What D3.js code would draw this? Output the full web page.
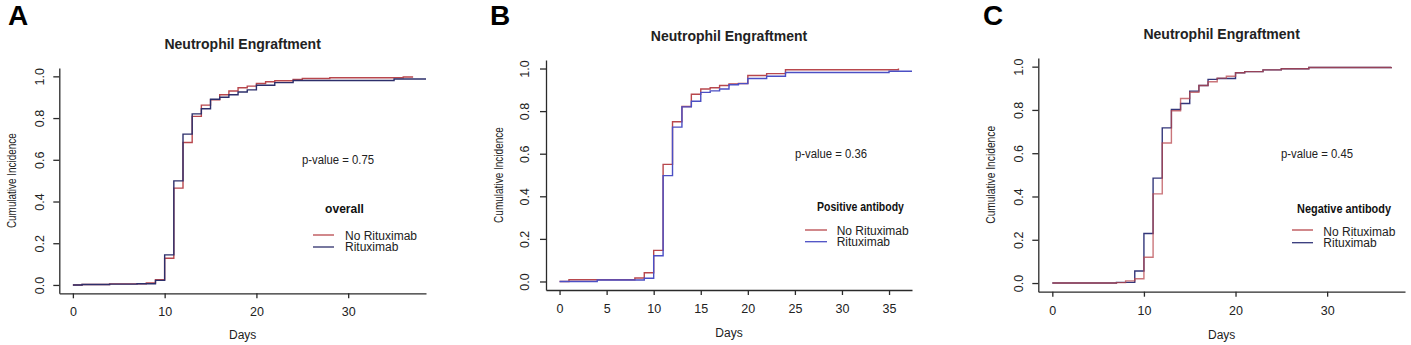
<!DOCTYPE html>
<html>
<head>
<meta charset="utf-8">
<script src="https://cdn.jsdelivr.net/npm/d3@7"></script>
<style>
  html, body { margin: 0; padding: 0; background: #fff; }
  svg { display: block; }
  text { font-family: "Liberation Sans", Arial, sans-serif; fill: #222; }
</style>
</head>
<body>
<svg id="chart" width="1411" height="345"></svg>
<script>
// ---------------- DATA ----------------
const seriesNames = ["No Rituximab", "Rituximab"];
const yTicks = [0, 0.2, 0.4, 0.6, 0.8, 1.0];
const xTicksA = [0, 10, 20, 30];
const xTicksB = [0, 5, 10, 15, 20, 25, 30, 35];
const xTicksC = [0, 10, 20, 30];

// Panel A: overall
const daysA_no = [0, 1, 4, 7, 8, 9, 10, 11, 12, 13, 14, 15, 16, 17, 18, 19, 20, 21, 22, 24, 25, 28, 36, 37];
const ciA_no   = [0, 0.002, 0.005, 0.006, 0.01, 0.025, 0.128, 0.464, 0.683, 0.808, 0.862, 0.888, 0.912, 0.93, 0.945, 0.953, 0.966, 0.974, 0.979, 0.985, 0.99, 0.993, 0.997, 1.0];
const daysA_rx = [0, 1, 4, 7, 9, 10, 11, 12, 13, 14, 15, 16, 17, 18, 19, 20, 22, 24, 35, 40];
const ciA_rx   = [0, 0.002, 0.004, 0.006, 0.022, 0.144, 0.499, 0.723, 0.82, 0.845, 0.89, 0.9, 0.912, 0.925, 0.935, 0.957, 0.97, 0.98, 0.987, 0.987];

// Panel B: positive antibody
const daysB_no = [0, 1, 4, 8, 9, 10, 11, 12, 13, 14, 15, 16, 17, 18, 19, 20, 22, 24, 36];
const ciB_no   = [0, 0.008, 0.008, 0.016, 0.041, 0.146, 0.55, 0.75, 0.822, 0.879, 0.904, 0.91, 0.92, 0.927, 0.93, 0.967, 0.976, 0.994, 1.0];
const daysB_rx = [0, 4, 9, 10, 11, 12, 13, 14, 15, 16, 17, 18, 19, 20, 22, 24, 35, 40];
const ciB_rx   = [0, 0.007, 0.015, 0.121, 0.497, 0.725, 0.82, 0.846, 0.888, 0.895, 0.904, 0.924, 0.929, 0.953, 0.964, 0.981, 0.987, 0.987];

// Panel C: negative antibody
const daysC_no = [0, 7, 8, 9, 10, 11, 12, 13, 14, 15, 16, 17, 18, 19, 20, 21, 23, 25, 28, 37];
const ciC_no   = [0, 0.002, 0.01, 0.02, 0.119, 0.412, 0.647, 0.796, 0.853, 0.882, 0.913, 0.93, 0.947, 0.956, 0.972, 0.977, 0.985, 0.99, 0.996, 0.998];
const daysC_rx = [0, 7, 9, 10, 11, 12, 13, 14, 15, 16, 17, 18, 20, 21, 23, 25, 28, 37];
const ciC_rx   = [0, 0.003, 0.056, 0.229, 0.485, 0.717, 0.802, 0.83, 0.887, 0.913, 0.941, 0.945, 0.972, 0.977, 0.985, 0.99, 0.996, 0.998];

const pValues = ["p-value = 0.75", "p-value = 0.36", "p-value = 0.45"];
const groupTitles = ["overall", "Positive antibody", "Negative antibody"];
const panelLetters = ["A", "B", "C"];
const chartTitle = "Neutrophil Engraftment";
const xLabel = "Days";
const yLabel = "Cumulative Incidence";

// ---------------- LAYOUT ----------------
const RED = "#b8474d";
const layouts = [
  { letterX: 8,   left: 59.3,  right: 426,  top: 68, bottom: 293.3, xDom: [-1.48, 38.48], xTicks: xTicksA,
    rx: [daysA_rx, ciA_rx], no: [daysA_no, ciA_no], blue: "#2d2f6b",
    titleY: 48.5, tickLabY: 22.7, daysY: 45.8, yTickOff: 15.3, yLabX: 16, yLabLen: 95,
    pv: [338, 164.3], lg: { titleX: 344.5, titleY: 213, tw: 39, x1: 313, x2: 334, y1: 235, y2: 247, tx: 345, b1: 239.5, b2: 251 }, redTop: false },
  { letterX: 490, left: 546,   right: 912,  top: 60, bottom: 290,   xDom: [-1.44, 37.44], xTicks: xTicksB,
    rx: [daysB_rx, ciB_rx], no: [daysB_no, ciB_no], blue: "#4b4fc4",
    titleY: 40.5, tickLabY: 22.5, daysY: 46.5, yTickOff: 16.7, yLabX: 502.7, yLabLen: 96,
    pv: [831, 158.3], lg: { titleX: 860.5, titleY: 210.5, tw: 87, x1: 805, x2: 827, y1: 230, y2: 241.7, tx: 836.7, b1: 234.5, b2: 246 }, redTop: false },
  { letterX: 983, left: 1038.3, right: 1405, top: 58, bottom: 291.7, xDom: [-1.53, 38.5], xTicks: xTicksC,
    rx: [daysC_rx, ciC_rx], no: [daysC_no, ciC_no], blue: "#33367a",
    titleY: 38.5, tickLabY: 23, daysY: 47.3, yTickOff: 15.6, yLabX: 995, yLabLen: 98,
    pv: [1317, 158], lg: { titleX: 1344, titleY: 213, tw: 94, x1: 1292, x2: 1313, y1: 230, y2: 242.7, tx: 1323.3, b1: 235.5, b2: 247.3 }, redTop: true }
];

const svg = d3.select("#chart");
const AX = "#2a2a2a";

// place a text centred at (cx, by) and squeeze it horizontally to width w
function squeezed(g, str, cx, by, w, size, bold, rotate) {
  const t = g.append("text").attr("text-anchor", "middle")
    .style("font-size", size + "px").style("font-weight", bold ? "bold" : "normal").text(str);
  const natural = t.node().getComputedTextLength();
  const k = Math.min(1, w / natural);
  t.attr("transform", `translate(${cx},${by})` + (rotate ? " rotate(-90)" : "") + ` scale(${k},1)`);
  return t;
}

layouts.forEach((L, i) => {
  const g = svg.append("g");
  const x = d3.scaleLinear().domain(L.xDom).range([L.left, L.right]);
  const y = d3.scaleLinear().domain([-0.04, 1.04]).range([L.bottom, L.top]);

  // panel letter
  g.append("text").attr("x", L.letterX).attr("y", 25)
    .style("font-size", "28px").style("font-weight", "bold").style("fill", "#000")
    .text(panelLetters[i]);

  // title
  g.append("text").attr("x", (L.left + L.right) / 2).attr("y", L.titleY)
    .attr("text-anchor", "middle").style("font-size", "14px").style("font-weight", "bold")
    .text(chartTitle);

  // clip
  const cid = "clip" + i;
  svg.append("clipPath").attr("id", cid).append("rect")
    .attr("x", L.left).attr("y", L.top).attr("width", L.right - L.left).attr("height", L.bottom - L.top);

  const line = d3.line().x(d => x(d[0])).y(d => y(d[1])).curve(d3.curveStepAfter);
  const toPts = (arr) => arr[0].map((t, k) => [t, arr[1][k]]);

  const drawRed = () => g.append("path").attr("clip-path", `url(#${cid})`)
    .attr("d", line(toPts(L.no))).attr("fill", "none").attr("stroke", RED)
    .attr("stroke-width", 1.4).attr("stroke-opacity", L.redTop ? 0.75 : 1);
  const drawBlue = () => g.append("path").attr("clip-path", `url(#${cid})`)
    .attr("d", line(toPts(L.rx))).attr("fill", "none").attr("stroke", L.blue)
    .attr("stroke-width", 1.4);
  if (L.redTop) { drawBlue(); drawRed(); } else { drawRed(); drawBlue(); }

  // x axis
  const xa = g.append("g").attr("transform", `translate(0,${L.bottom})`)
    .call(d3.axisBottom(x).tickValues(L.xTicks).tickFormat(d3.format("d")).tickSize(5).tickSizeOuter(0));
  xa.selectAll("text").attr("y", L.tickLabY).attr("dy", null)
    .style("font-size", "12.5px").style("fill", "#222");
  xa.selectAll("line, path").attr("stroke", AX).attr("stroke-width", 1.3);

  // y axis
  const ya = g.append("g").attr("transform", `translate(${L.left},0)`)
    .call(d3.axisLeft(y).tickValues(yTicks).tickFormat(d3.format(".1f")).tickSize(6).tickSizeOuter(0));
  ya.selectAll("text").attr("x", null).attr("dy", null).attr("text-anchor", "middle")
    .attr("transform", `translate(${-L.yTickOff},0) rotate(-90)`)
    .style("font-size", "12.5px").style("fill", "#222");
  ya.selectAll("line, path").attr("stroke", AX).attr("stroke-width", 1.3);

  // axis labels
  g.append("text").attr("x", (L.left + L.right) / 2).attr("y", L.bottom + L.daysY)
    .attr("text-anchor", "middle").style("font-size", "12px").text(xLabel);
  squeezed(g, yLabel, L.yLabX, (L.top + L.bottom) / 2, L.yLabLen, 12, false, true);

  // p-value
  squeezed(g, pValues[i], L.pv[0], L.pv[1], 72, 12, false, false);

  // legend
  const lg = L.lg;
  squeezed(g, groupTitles[i], lg.titleX, lg.titleY, lg.tw, 13.5, true, false).style("fill", "#111");
  [[RED, lg.y1, lg.b1], [L.blue, lg.y2, lg.b2]].forEach((c, k) => {
    g.append("line").attr("x1", lg.x1).attr("x2", lg.x2).attr("y1", c[1]).attr("y2", c[1])
      .attr("stroke", c[0]).attr("stroke-width", 1.3);
    g.append("text").attr("x", lg.tx).attr("y", c[2]).style("font-size", "12px").text(seriesNames[k]);
  });
});
</script>
</body>
</html>
